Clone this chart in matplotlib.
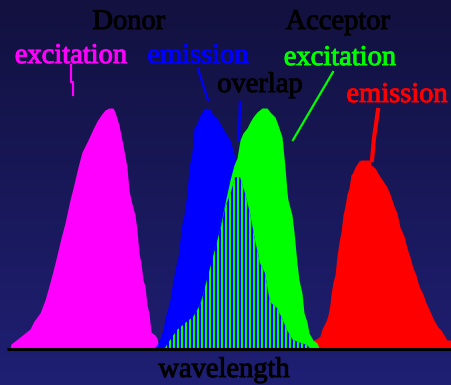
import numpy as np
import matplotlib
matplotlib.use("Agg")
import matplotlib.pyplot as plt
import matplotlib.patheffects as pe

# ---- data (wavelength position, relative intensity) ----
donor_ex_x = [10, 11, 20, 30, 34, 40, 45, 49, 53, 57, 61, 65, 70, 74, 78, 82, 88, 93, 97, 101,
              105, 109, 113, 115, 119, 123, 127, 129, 131, 135, 137, 139, 141, 143, 145, 147,
              149, 151, 155, 157, 159]
donor_ex_y = [0, 4, 11, 19, 27, 35, 48, 62, 77, 93, 110, 125, 148, 164, 181, 196, 208, 219, 227,
              233, 238, 240, 240, 236, 223, 203, 181, 158, 148, 133, 118, 95, 85, 68, 62, 43,
              35, 16, 13, 10, 0]

acc_em_x = [309, 311, 314, 318, 320, 322, 326, 328, 330, 331, 333, 335, 337, 339, 341, 343, 345,
            347, 349, 351, 353, 355, 357, 359, 361, 370, 371, 375, 379, 383, 387, 390, 394, 397,
            400, 404, 407, 410, 413, 416, 419, 423, 426, 429, 432, 435, 438, 441, 444, 447, 452]
acc_em_y = [0, 4, 8, 10, 12, 19, 27, 33, 44, 54, 66, 73, 92, 106, 116, 133, 142, 154, 160, 173,
            176, 181, 184, 187, 188, 188, 183, 180, 173, 167, 161, 154, 142, 135, 121, 112, 100,
            91, 80, 73, 62, 54, 45, 39, 32, 26, 21, 18, 13, 8, 8]

donor_em_x = [154, 157, 160, 163, 165, 170, 173, 176, 178, 182, 184, 187, 189, 192, 194, 197, 199,
              202, 205, 210, 213, 217, 221, 225, 230, 233, 236, 238, 240, 245, 250, 260, 270,
              280, 290, 300, 310]
donor_em_y = [0, 3, 10, 18, 30, 48, 68, 83, 91, 125, 133, 155, 181, 196, 220, 225, 231, 236, 240,
              239, 233, 230, 223, 216, 208, 198, 188, 181, 176, 158, 138, 93, 53, 33, 16, 6, 0]

acc_ex_x = [172, 180, 190, 200, 205, 210, 215, 220, 225, 230, 234, 237, 238, 240, 243, 247, 250,
            253, 257, 262, 267, 270, 275, 278, 282, 283, 285, 287, 288, 292, 294, 297, 299, 302,
            304, 307, 309, 313, 317, 319]
acc_ex_y = [0, 8, 25, 45, 62, 80, 100, 120, 145, 168, 183, 190, 196, 208, 215, 220, 226, 231, 236,
            240, 240, 236, 231, 223, 211, 201, 181, 156, 148, 133, 116, 85, 68, 55, 35, 26, 15,
            8, 5, 0]

overlap_x = [165, 168, 177, 185, 193, 198, 202, 205, 209, 213, 218, 222, 225, 231, 235, 240, 245,
             250, 255, 260, 265, 270, 277, 282, 287, 293, 307, 310]
overlap_y = [0, 5, 18, 25, 31, 39, 48, 61, 76, 91, 110, 125, 140, 156, 171, 171, 155, 135, 108,
             85, 75, 46, 40, 30, 18, 8, 3, 0]

# ---- figure ----
W, H, DPI = 451, 385, 100
fig = plt.figure(figsize=(W / DPI, H / DPI), dpi=DPI)

top = np.array([18, 17, 63]) / 255.0
bot = np.array([31, 31, 116]) / 255.0
t = np.linspace(0, 1, H)[:, None, None]
grad = (top[None, None, :] * (1 - t) + bot[None, None, :] * t) * np.ones((1, W, 1))
bg = fig.add_axes([0, 0, 1, 1], zorder=0)
bg.imshow(grad, aspect="auto", extent=[0, 1, 0, 1], origin="upper", interpolation="nearest")
bg.axis("off")

ax = fig.add_axes([0, 37 / H, 1, 348 / H], zorder=1)
ax.set_xlim(0, W)
ax.set_ylim(0, 348)
ax.set_facecolor("none")
ax.axis("off")

MAG, BLU, GRN, RED = "#ff00ff", "#0000ff", "#00ff00", "#ff0000"

ax.fill_between(donor_ex_x, donor_ex_y, 0, color=MAG, lw=0, zorder=2)
ax.fill_between(acc_em_x, acc_em_y, 0, color=RED, lw=0, zorder=2)
ax.fill_between(donor_em_x, donor_em_y, 0, color=BLU, lw=0, zorder=3)
ax.fill_between(acc_ex_x, acc_ex_y, 0, color=GRN, lw=0, zorder=4)

# overlap: striped green / blue
ov_patch = ax.fill(overlap_x, overlap_y, color=BLU, lw=0, zorder=5)[0]
stripe_x = np.arange(min(overlap_x), max(overlap_x) + 1, 4)
stripes = ax.bar(stripe_x, max(overlap_y) + 5, width=2, align="edge", color=GRN,
                 lw=0, antialiased=False, zorder=6)
for b in stripes:
    b.set_clip_path(ov_patch)

# baseline axis
ax.plot([7, 452], [-1, -1], color="black", lw=2.2, solid_capstyle="butt", clip_on=False, zorder=7)

# pointer lines
ax.plot([71, 71, 73, 73], [283, 266, 266, 253], color=MAG, lw=1.6, zorder=7)
ax.plot([198, 208], [279, 248], color=BLU, lw=1.6, zorder=7)
ax.plot([240, 239], [246, 208], color=BLU, lw=1.8, zorder=7)
ax.plot([333, 293], [276, 208], color=GRN, lw=1.6, zorder=7)
ax.plot([378, 374, 372], [238, 210, 188], color=RED, lw=3, zorder=7)

font = "Liberation Serif"
fs = 20.5
def lab(x, y, s, c):
    ax.text(x, y, s, color=c, fontsize=fs, family=font, ha="center", va="baseline",
            clip_on=False, zorder=8,
            path_effects=[pe.withStroke(linewidth=0.7, foreground=c)])

lab(129, 319, "Donor", "black")
lab(338, 319, "Acceptor", "black")
lab(71, 285, "excitation", MAG)
lab(198, 285, "emission", BLU)
lab(340, 283, "excitation", GRN)
lab(260, 256, "overlap", "black")
lab(397, 246, "emission", RED)
lab(224, -29, "wavelength", "black")

fig.savefig("out.png", dpi=DPI)
